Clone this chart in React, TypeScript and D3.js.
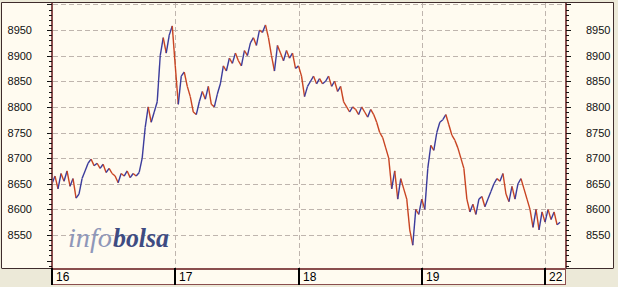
import React from "react";
import * as d3 from "d3";

const dayLabels = ["16", "17", "18", "19", "22"];
const yTicks = [8550, 8600, 8650, 8700, 8750, 8800, 8850, 8900, 8950];
const gridLevels = [8550, 8600, 8650, 8700, 8750, 8800, 8850, 8900, 8950, 9000];
const pointsPerDay = 41;
const prices = [
  8650, 8665, 8640, 8670, 8655, 8675, 8645, 8660, 8622, 8630,
  8660, 8675, 8690, 8698, 8685, 8690, 8680, 8688, 8672, 8680,
  8670, 8665, 8652, 8670, 8665, 8675, 8662, 8670, 8665, 8672,
  8700, 8760, 8800, 8770, 8790, 8810, 8900, 8935, 8905, 8940,
  8958, 8880, 8805, 8860, 8868, 8840, 8820, 8790, 8785, 8810,
  8830, 8815, 8840, 8805, 8800, 8825, 8845, 8880, 8870, 8895,
  8885, 8905, 8890, 8880, 8910, 8900, 8925, 8935, 8920, 8950,
  8945, 8960, 8935, 8900, 8870, 8920, 8905, 8890, 8910, 8895,
  8905, 8875, 8880, 8860, 8820, 8840, 8850, 8860, 8845, 8855,
  8845, 8850, 8860, 8840, 8850, 8830, 8840, 8810, 8800, 8790,
  8800, 8795, 8785, 8800, 8790, 8780, 8795, 8785, 8770, 8750,
  8740, 8720, 8700, 8640, 8675, 8620, 8660, 8640, 8620, 8560,
  8530, 8600, 8590, 8620, 8600, 8680, 8725, 8715, 8750, 8770,
  8775, 8785, 8765, 8745, 8735, 8720, 8700, 8680, 8620, 8595,
  8610, 8590, 8620, 8625, 8605, 8620, 8635, 8650, 8660, 8655,
  8670, 8630, 8615, 8645, 8620, 8650, 8660, 8640, 8620, 8600,
  8565, 8600, 8560, 8595, 8575, 8600, 8580, 8595, 8570, 8575,
];

const W = 618;
const H = 287;
const plotL = 52;
const plotR = 566;
const plotT = 3;
const plotB = 268;
const bandB = 285;
const outerL = 1.5;
const outerR = 613.5;
const outerT = 2.5;

const cream = "#fffbf0";
const gray = "#ece9d8";
const frame = "#3f2c2c";
const maroon = "#8a4e4e";
const gridColor = "#bfb5ae";
const upColor = "#3c3c9c";
const downColor = "#c84422";

export default function App() {
  const x = d3.scaleLinear().domain([0, 4.17]).range([plotL, plotR]);
  const y = d3.scaleLinear().domain([8500, 9000]).range([260.6, 4.4]);
  const minorTicks = d3.range(8490, 9001, 10);
  const segs = prices.slice(1).map((v, i) => {
    const p = prices[i];
    return {
      x1: x(i / pointsPerDay),
      y1: y(p),
      x2: x((i + 1) / pointsPerDay),
      y2: y(v),
      up: v >= p,
    };
  });
  const days = dayLabels.map((d, i) => ({ label: d, x: x(i) }));
  const labelFont = "'Liberation Sans', Arial, sans-serif";
  const wmFont = "'Liberation Serif', 'Times New Roman', serif";

  return (
    <svg
      width={W}
      height={H}
      style={{ position: "fixed", left: 0, top: 0, display: "block" }}
    >
      <rect x={0} y={0} width={W} height={H} fill={gray} />
      <rect x={outerL} y={outerT} width={outerR - outerL} height={plotB - outerT} fill={cream} />
      <rect x={plotL} y={plotB} width={plotR - plotL} height={bandB - plotB} fill={cream} />

      {/* grid */}
      {gridLevels.map((g) => (
        <line
          key={"h" + g}
          x1={plotL + 1}
          x2={plotR - 1}
          y1={Math.round(y(g)) + 0.5}
          y2={Math.round(y(g)) + 0.5}
          stroke={gridColor}
          strokeDasharray="5,3"
        />
      ))}
      {days.slice(1).map((d) => (
        <line
          key={"v" + d.label}
          x1={Math.round(d.x) + 0.5}
          x2={Math.round(d.x) + 0.5}
          y1={plotT}
          y2={plotB}
          stroke={gridColor}
          strokeDasharray="5,3"
        />
      ))}

      {/* watermark */}
      <text
        x={68}
        y={247}
        fontFamily={wmFont}
        fontStyle="italic"
        fontSize={27}
        fill="#8f97b9"
        textLength={44}
        lengthAdjust="spacingAndGlyphs"
      >
        info
      </text>
      <text
        x={113}
        y={247}
        fontFamily={wmFont}
        fontStyle="italic"
        fontWeight="bold"
        fontSize={27}
        fill="#3e4b82"
        textLength={56}
        lengthAdjust="spacingAndGlyphs"
      >
        bolsa
      </text>

      {/* price segments */}
      {segs.map((s, i) => (
        <line
          key={"s" + i}
          x1={s.x1}
          y1={s.y1}
          x2={s.x2}
          y2={s.y2}
          stroke={s.up ? upColor : downColor}
          strokeWidth={1.4}
        />
      ))}

      {/* frame */}
      <line x1={outerL} x2={outerR} y1={outerT} y2={outerT} stroke={frame} />
      <line x1={outerL} x2={outerL} y1={outerT} y2={plotB} stroke={frame} />
      <line x1={outerR} x2={outerR} y1={outerT} y2={plotB} stroke={frame} />
      <line x1={outerL} x2={outerR} y1={plotB + 0.5} y2={plotB + 0.5} stroke={frame} />
      <line x1={plotL} x2={plotR} y1={plotB + 1} y2={plotB + 1} stroke={maroon} strokeWidth={2} />
      <line x1={plotL} x2={plotR} y1={bandB - 0.5} y2={bandB - 0.5} stroke={maroon} />
      <line x1={plotR - 0.5} x2={plotR - 0.5} y1={plotB} y2={bandB} stroke={maroon} />
      <line x1={plotL} x2={plotL} y1={plotT} y2={plotB} stroke={maroon} strokeWidth={2} />
      <line x1={plotR} x2={plotR} y1={plotT} y2={plotB} stroke={maroon} strokeWidth={2} />

      {/* y ticks */}
      {minorTicks.map((t) => {
        const major = t % 50 === 0;
        const yy = Math.round(y(t)) + 0.5;
        if (yy < plotT || yy > plotB) return null;
        return (
          <g key={"t" + t}>
            <line x1={plotL - (major ? 5 : 3)} x2={plotL} y1={yy} y2={yy} stroke="#111" />
            <line x1={plotR} x2={plotR + (major ? 5 : 3)} y1={yy} y2={yy} stroke="#111" />
          </g>
        );
      })}
      {yTicks.map((t) => (
        <g key={"l" + t}>
          <text
            x={32}
            y={y(t) + 4}
            textAnchor="end"
            fontFamily={labelFont}
            fontSize={11}
            fill="#111"
          >
            {t}
          </text>
          <text
            x={586}
            y={y(t) + 4}
            textAnchor="start"
            fontFamily={labelFont}
            fontSize={11}
            fill="#111"
          >
            {t}
          </text>
        </g>
      ))}

      {/* day ticks & labels */}
      {days.map((d) => (
        <g key={"d" + d.label}>
          <line
            x1={Math.round(d.x)}
            x2={Math.round(d.x)}
            y1={plotB}
            y2={bandB}
            stroke="#000"
            strokeWidth={2}
          />
          <text
            x={Math.round(d.x) + 4}
            y={281}
            fontFamily={labelFont}
            fontSize={12}
            fill="#000"
          >
            {d.label}
          </text>
        </g>
      ))}
    </svg>
  );
}
